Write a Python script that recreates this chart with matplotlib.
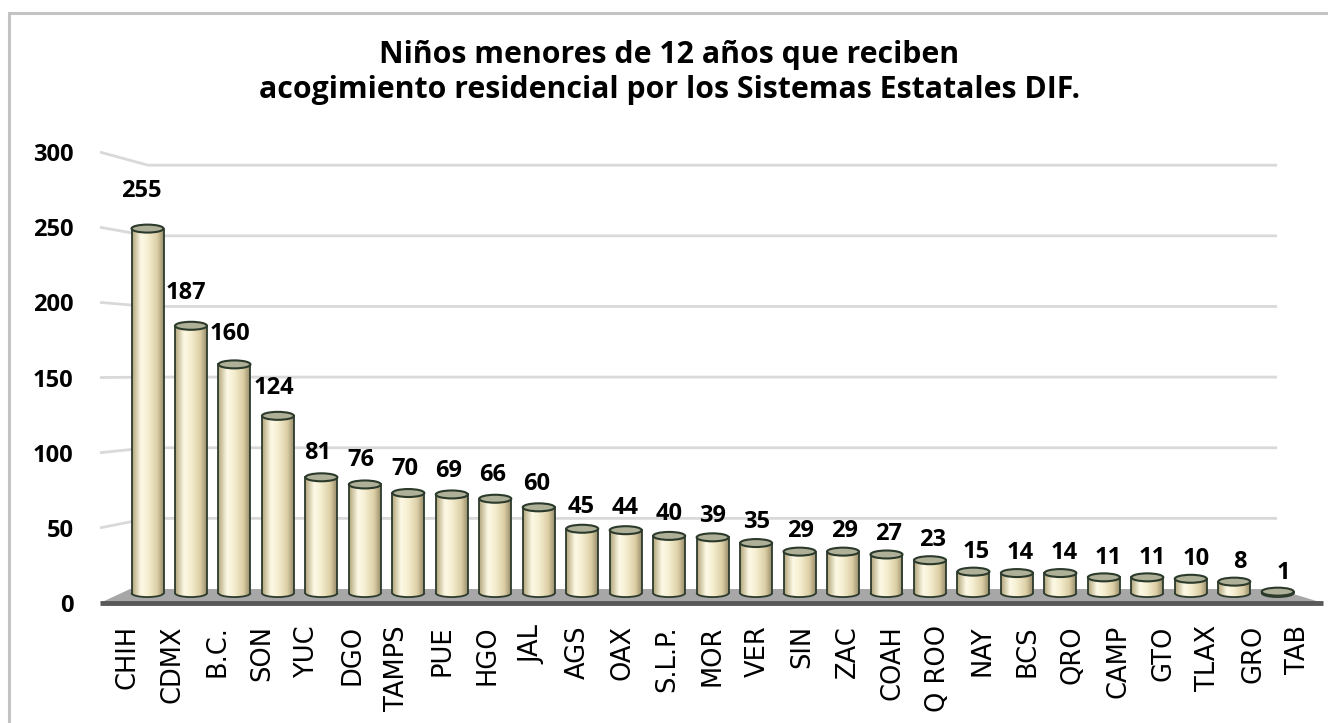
#!/usr/bin/env python3
"""Niños menores de 12 años en acogimiento residencial (DIF) - cylinder bar chart."""

import numpy as np
import matplotlib
matplotlib.use('Agg')
import matplotlib.pyplot as plt
from matplotlib.patches import Ellipse, Arc, Rectangle, Polygon
from matplotlib.colors import LinearSegmentedColormap

states = ['CHIH', 'CDMX', 'B.C.', 'SON', 'YUC', 'DGO', 'TAMPS', 'PUE', 'HGO', 'JAL',
          'AGS', 'OAX', 'S.L.P.', 'MOR', 'VER', 'SIN', 'ZAC', 'COAH', 'Q ROO', 'NAY',
          'BCS', 'QRO', 'CAMP', 'GTO', 'TLAX', 'GRO', 'TAB']
children = [255, 187, 160, 124, 81, 76, 70, 69, 66, 60,
            45, 44, 40, 39, 35, 29, 29, 27, 23, 15,
            14, 14, 11, 11, 10, 8, 1]
yticks = [0, 50, 100, 150, 200, 250, 300]

TITLE = 'Niños menores de 12 años que reciben\nacogimiento residencial por los Sistemas Estatales DIF.'

# fake 3D: bars sit on a "back" plane that is slightly shrunk toward the middle
MID = (len(states) - 1) / 2
BAR_SHRINK = 0.965
LABEL_SHRINK = 0.975
BAR_BASE = 6.6      # data units the bar floor sits above the front edge
BAR_SCALE = 0.951
WALL_BASE = 9.3     # back wall gridlines
WALL_SCALE = 0.94
BAR_W = 0.71
CAP_H = 5.3

body_cmap = LinearSegmentedColormap.from_list(
    'cyl', [(0.0, '#b3a67a'), (0.28, '#fdf9e6'), (0.5, '#f5eed0'),
            (0.8, '#dccfa6'), (1.0, '#9a8e6c')])
outline = '#2c3a2c'

fig = plt.figure(figsize=(13.28, 7.23), dpi=100)
fig.patch.set_facecolor('white')

# outer frame (open at the right/bottom, like the cropped original)
fig.patches.append(Rectangle((9 / 1328, -0.5), 2, 1.5 - 13 / 723,
                             transform=fig.transFigure, fill=False,
                             edgecolor='#c3c3c3', lw=2.2))

fig.text(0.504, 0.8997, TITLE, ha='center', va='center', fontsize=21.8,
         fontweight='bold', family='Open Sans', linespacing=1.22)

ax = fig.add_axes([100 / 1328, 120 / 723, 1223 / 1328, 330 * 1.503 / 723])
xmin, xmax = -0.6, 26.55
ymin, ymax = 0, 330

# back wall gridlines with the little slanted piece on the left
wall_left = 0.466
wall_right = 25.53
for v in yticks[1:]:
    wy = WALL_BASE + WALL_SCALE * v
    ax.plot([xmin, wall_left, wall_right], [v, wy, wy], color='#d9d9d9',
            lw=2, zorder=1, solid_capstyle='butt', clip_on=False)

# floor
floor = Polygon([(xmin, 0), (0.066, WALL_BASE), (wall_right, WALL_BASE), (xmax, 0)],
                closed=True, facecolor='#a7a7a7', edgecolor='none', zorder=2)
ax.add_patch(floor)
ax.plot([xmin, xmax], [0, 0], color='#595959', lw=3.5, zorder=3,
        solid_capstyle='butt', clip_on=False)

grad = np.linspace(0, 1, 64).reshape(1, -1)
for i, val in enumerate(children):
    cx = MID + (i - MID) * BAR_SHRINK
    x0, x1 = cx - BAR_W / 2, cx + BAR_W / 2
    yb = BAR_BASE
    yt = BAR_BASE + BAR_SCALE * val

    # cylinder body + rounded bottom
    im = ax.imshow(grad, cmap=body_cmap, extent=(x0, x1, yb - CAP_H / 2, yt),
                   aspect='auto', interpolation='bicubic', zorder=4)
    im.set_clip_path(Rectangle((x0, yb), BAR_W, yt - yb, transform=ax.transData))
    im2 = ax.imshow(grad, cmap=body_cmap, extent=(x0, x1, yb - CAP_H / 2, yb + CAP_H / 2),
                    aspect='auto', interpolation='bicubic', zorder=4)
    im2.set_clip_path(Ellipse((cx, yb), BAR_W, CAP_H, transform=ax.transData))

    ax.plot([x0, x0], [yb, yt], color=outline, lw=1.3, zorder=5)
    ax.plot([x1, x1], [yb, yt], color=outline, lw=1.3, zorder=5)
    ax.add_patch(Arc((cx, yb), BAR_W, CAP_H, theta1=180, theta2=360,
                     color=outline, lw=1.3, zorder=5))
    ax.add_patch(Ellipse((cx, yt), BAR_W, CAP_H, facecolor='#aeb097',
                         edgecolor=outline, lw=1.5, zorder=6))

    lx = MID + (i - MID) * LABEL_SHRINK
    ax.text(lx, val + 19, str(val), ha='center', va='center', fontsize=17,
            fontweight='bold', family='Open Sans', zorder=7)

ax.set_xlim(xmin, xmax)
ax.set_ylim(ymin, ymax)
ax.set_xticks(range(len(states)))
ax.set_xticklabels(states, rotation=90, fontsize=18.5, family='DejaVu Sans')
ax.set_yticks(yticks)
ax.set_yticklabels([str(t) for t in yticks], fontsize=17, fontweight='bold',
                   family='Open Sans')
ax.tick_params(axis='x', length=0, pad=16)
ax.tick_params(axis='y', length=0, pad=19)
for s in ax.spines.values():
    s.set_visible(False)
ax.set_facecolor('none')

plt.savefig('out.png', dpi=100)
